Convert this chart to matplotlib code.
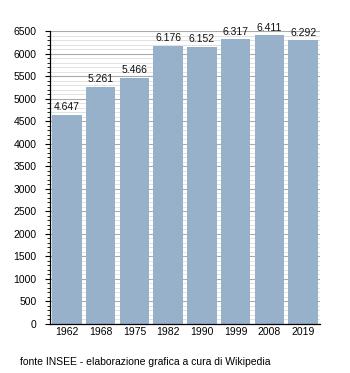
import matplotlib
matplotlib.use("Agg")
import matplotlib.pyplot as plt
from matplotlib.ticker import MultipleLocator

years = ["1962", "1968", "1975", "1982", "1990", "1999", "2008", "2019"]
population = [4647, 5261, 5466, 6176, 6152, 6317, 6411, 6292]
value_labels = ["4.647", "5.261", "5.466", "6.176", "6.152", "6.317", "6.411", "6.292"]
source_note = "fonte INSEE - elaborazione grafica a cura di Wikipedia"

plt.rcParams["font.family"] = ["Liberation Sans", "DejaVu Sans"]

fig = plt.figure(figsize=(3.5, 3.73), dpi=100)
ax = fig.add_axes([50 / 350, 1 - 324 / 373, 270 / 350, 293 / 373])

x = list(range(len(years)))
ax.bar(x, population, width=0.87, color="#97b1ca", zorder=2)
for xi, v, lab in zip(x, population, value_labels):
    ax.text(xi, v + 55, lab, ha="center", va="bottom", fontsize=7.5, color="#111111", zorder=3)

ax.set_xlim(-0.5, len(years) - 0.5)
ax.set_ylim(0, 6500)
ax.yaxis.set_major_locator(MultipleLocator(500))
ax.yaxis.set_minor_locator(MultipleLocator(100))
ax.grid(axis="y", which="major", color="#aaaaaa", linewidth=0.8, zorder=0)
ax.grid(axis="y", which="minor", color="#dddddd", linewidth=0.6, zorder=0)
ax.set_axisbelow(True)

ax.set_xticks(x)
ax.set_xticklabels(years)
ax.tick_params(axis="x", length=0, labelsize=7.5, pad=2.5)
ax.tick_params(axis="y", which="major", length=3.5, width=0.8, labelsize=7.5, pad=6)
ax.tick_params(axis="y", which="minor", length=2, width=0.6)

for side in ["top", "right"]:
    ax.spines[side].set_visible(False)
ax.spines["left"].set_linewidth(0.9)
ax.spines["bottom"].set_linewidth(0.9)

fig.text(20 / 350, 1 - 362 / 373, source_note, fontsize=7.5, va="center", ha="left")

fig.savefig("out.png", dpi=100)
